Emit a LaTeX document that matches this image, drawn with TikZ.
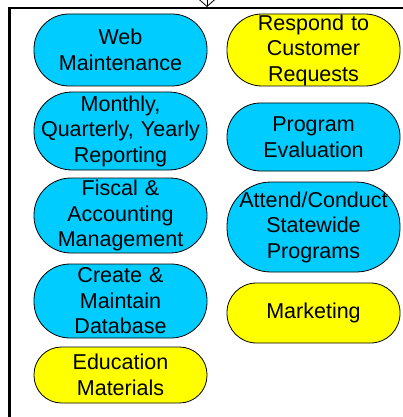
\documentclass[tikz,border=0pt]{standalone}
\usepackage{fontspec}
\setmainfont{Liberation Sans}
\usetikzlibrary{arrows.meta}
\definecolor{pillblue}{HTML}{00CCFF}
\definecolor{pillyellow}{HTML}{FFFF00}
\begin{document}
\begin{tikzpicture}[x=1pt,y=-1pt,
  pill/.style={rectangle, draw=black, line width=0.8pt, minimum width=173pt,
    text width=173pt, inner sep=0pt, align=center, font=\fontsize{21.5}{25.5}\selectfont},
  bluepill/.style={pill, fill=pillblue},
  yellowpill/.style={pill, fill=pillyellow},
  frame/.style={line width=2.2pt, black}]
\useasboundingbox (0,0) rectangle (403,417);
\begin{scope}
\clip (0,0) rectangle (403,417);
\coordinate (corner) at (9.5,8);
\coordinate (topend) at (410,8);
\coordinate (botend) at (9.5,425);
\coordinate (arrowtip) at (207,7);
\coordinate (arrowtail) at (207,-20);
\draw[frame] (topend) -- (corner) -- (botend);
\draw[line width=0.8pt, -{Straight Barb[length=8pt,width=18pt]}] (arrowtail) -- (arrowtip);
\end{scope}
\node[bluepill, minimum height=72pt, rounded corners=35pt] (web) at (120.5,50) {Web\\Maintenance};
\node[bluepill, minimum height=78pt, rounded corners=38pt] (monthly) at (120.5,131) {Monthly,\\Quarterly, Yearly\\Reporting};
\node[bluepill, minimum height=75pt, rounded corners=37pt] (fiscal) at (120.5,215.5) {Fiscal \&\\Accounting\\Management};
\node[bluepill, minimum height=74pt, rounded corners=36pt] (create) at (120.5,301) {Create \&\\Maintain\\Database};
\node[yellowpill, minimum height=56pt, rounded corners=27.5pt] (education) at (120.5,375) {Education\\Materials};
\node[yellowpill, minimum height=72pt, rounded corners=35pt] (respond) at (313.5,50) {Respond to\\Customer\\Requests};
\node[bluepill, minimum height=68pt, rounded corners=33.5pt] (program) at (313.5,137) {Program\\Evaluation};
\node[bluepill, minimum height=90pt, rounded corners=44pt] (attend) at (313.5,227) {Attend/Conduct\\Statewide\\Programs};
\node[yellowpill, minimum height=60pt, rounded corners=29.5pt] (marketing) at (313.5,313) {Marketing};
\end{tikzpicture}
\end{document}
